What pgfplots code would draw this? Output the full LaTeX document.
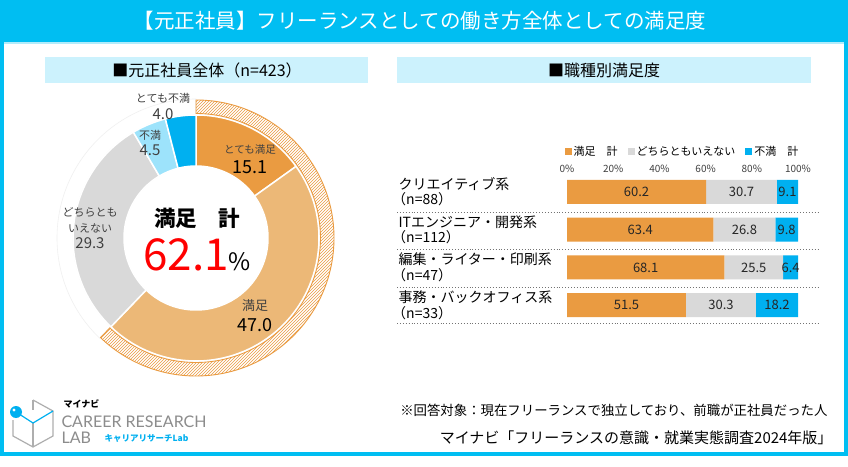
\documentclass[border=0pt]{standalone}
\usepackage{pgfplots}
\pgfplotsset{compat=1.18}
\usepackage{pgfplotstable}
\usepackage{fontspec}
\setmainfont{Noto Sans CJK JP}
\newfontfamily\latofont{Lato}
\usetikzlibrary{patterns}
\definecolor{frame}{HTML}{00BEF2}
\definecolor{hdr}{HTML}{CCF2FD}
\definecolor{oD}{HTML}{EA9B41}
\definecolor{oL}{HTML}{ECB877}
\definecolor{gr}{HTML}{D9D9D9}
\definecolor{bL}{HTML}{9DE3FB}
\definecolor{bD}{HTML}{00B0F0}
\definecolor{txt}{HTML}{404040}
\definecolor{logogray}{HTML}{8C8C8C}
\newcommand\fs[2]{\fontsize{#1}{#2}\selectfont}
\newcommand\lp{\kern-0.45em（}

\pgfplotstableread{
idx sat neu dis
0 60.2 30.7 9.1
1 63.4 26.8 9.8
2 68.1 25.5 6.4
3 51.5 30.3 18.2
}\bardata

% donut values (percent)
\def\dA{15.1}\def\dB{47.0}\def\dC{29.3}\def\dD{4.5}\def\dE{4.0}
\pgfmathsetmacro\dT{\dA+\dB+\dC+\dD+\dE}
\pgfmathsetmacro\aA{90}
\pgfmathsetmacro\aB{\aA-\dA/\dT*360}
\pgfmathsetmacro\aC{\aB-\dB/\dT*360}
\pgfmathsetmacro\aD{\aC-\dC/\dT*360}
\pgfmathsetmacro\aE{\aD-\dD/\dT*360}
\pgfmathsetmacro\aF{\aE-\dE/\dT*360}

\newcommand\ring[5]{%
  \filldraw[#5] (axis cs:{#4*cos(#1)},{#4*sin(#1)}) arc[start angle=#1,end angle=#2,radius=#4pt]
   -- (axis cs:{#3*cos(#2)},{#3*sin(#2)}) arc[start angle=#2,end angle=#1,radius=#3pt] -- cycle;}

\begin{document}
\begin{tikzpicture}[x=1pt,y=1pt]
\useasboundingbox (0,0) rectangle (848,466);
\fill[white] (0,0) rectangle (848,466);
% frame
\fill[frame] (0,10) rectangle (848,466);
\fill[white] (4,14) rectangle (844,424);
\fill[frame!30] (4,422) rectangle (844,424);
\node[white, font=\fs{20.5}{22}] at (420,445) {【元正社員】フリーランスとしての働き方全体としての満足度};
% sub headers
\fill[hdr] (45,383) rectangle (368,409);
\fill[hdr] (397,383) rectangle (811,409);
\node[font=\fs{16}{18}] at (207,396) {■元正社員全体（n=423）};
\node[font=\fs{16}{18}] at (604,396) {■職種別満足度};

% ---------------- donut ----------------
\begin{axis}[at={(196pt,228pt)}, anchor=center, scale only axis, width=300pt, height=300pt,
  xmin=-150, xmax=150, ymin=-150, ymax=150, hide axis, clip=false]
  \ring{\aC}{\aF}{123}{139}{draw=black!6, fill=white, line width=0.6pt}
  \ring{\aA}{\aB}{72}{123}{fill=oD, draw=white, line width=1.5pt}
  \ring{\aB}{\aC}{72}{123}{fill=oL, draw=white, line width=1.5pt}
  \ring{\aC}{\aD}{72}{123}{fill=gr, draw=white, line width=1.5pt}
  \ring{\aD}{\aE}{72}{123}{fill=bL, draw=white, line width=1.5pt}
  \ring{\aE}{\aF}{72}{123}{fill=bD, draw=white, line width=1.5pt}
  \ring{\aA}{\aC}{124.5}{138}{pattern=north east lines, pattern color=oD, draw=oD, line width=0.9pt}
\end{axis}
% donut labels
\node[txt, font=\fs{11}{12}] at (163,368) {とても不満};
\node[txt, font=\fs{15}{16}] at (163,352) {4.0};
\node[txt, font=\fs{11}{12}] at (150,331) {不満};
\node[txt, font=\fs{15}{16}] at (150,316) {4.5};
\node[txt, font=\fs{10.5}{12}] at (250,316) {とても満足};
\node[black, font=\fs{18}{19}] at (250,299) {15.1};
\node[txt, font=\fs{11}{12}] at (90,254) {どちらとも};
\node[txt, font=\fs{11}{12}] at (90,238) {いえない};
\node[txt, font=\fs{15}{16}] at (90,223) {29.3};
\node[txt, font=\fs{13}{14}] at (255,160) {満足};
\node[black, font=\fs{18}{19}] at (255,141) {47.0};
\node[black, font=\bfseries\fs{21.5}{24}] at (197,248) {満足　計};
\node[inner sep=0pt] at (197,211) {{\fs{44}{46}\color{red}62.1}{\fs{24}{26}\%}};

% ---------------- bars ----------------
\draw[black!55, dotted, line width=0.9pt] (397,254) -- (820,254);
\draw[black!55, dotted, line width=0.9pt] (397,217) -- (820,217);
\draw[black!55, dotted, line width=0.9pt] (397,179) -- (820,179);
\draw[black!55, dotted, line width=0.9pt] (397,143) -- (820,143);
\begin{axis}[at={(567pt,142pt)}, anchor=south west, scale only axis, width=231pt, height=151pt,
  xbar stacked, bar width=24pt, xmin=0, xmax=100, ymin=-0.5, ymax=3.5, y dir=reverse,
  axis line style={draw=none}, major tick length=0pt,
  /pgf/number format/assume math mode=true,
  xtick={0,20,40,60,80,100}, xticklabel pos=upper,
  xticklabel={\pgfmathprintnumber{\tick}\%},
  xticklabel style={font=\fs{10}{10}, text=txt, yshift=-3pt},
  ytick={0,1,2,3},
  yticklabels={{クリエイティブ系\\\lp n=88）},{ITエンジニア・開発系\\\lp n=112）},{編集・ライター・印刷系\\\lp n=47）},{事務・バックオフィス系\\\lp n=33）}},
  yticklabel style={anchor=west, xshift=-172pt, align=left, font=\fs{14}{15.5}, text=black},
  nodes near coords={\pgfmathprintnumber[fixed,fixed zerofill,precision=1]{\pgfplotspointmeta}},
  every node near coord/.append style={anchor=center, font=\fs{13}{14}, text=black!85},
  legend style={at={(0.5,1)}, anchor=south, yshift=12pt, legend columns=3, draw=none, fill=none,
    font=\fs{11}{12}, /tikz/every even column/.append style={column sep=8pt}},
  legend image code/.code={\fill[#1] (0pt,-3.5pt) rectangle (7pt,3.5pt);},
  ]
  \addplot[fill=oD, draw=none, point meta=explicit] table[x=sat, y=idx, meta=sat] {\bardata};
  \addplot[fill=gr, draw=none, point meta=explicit] table[x=neu, y=idx, meta=neu] {\bardata};
  \addplot[fill=bD, draw=none, point meta=explicit] table[x=dis, y=idx, meta=dis] {\bardata};
  \legend{満足　計, どちらともいえない, 不満　計}
\end{axis}

% ---------------- footnotes ----------------
\node[anchor=east, font=\fs{13.4}{14}] at (831,56) {※回答対象：現在フリーランスで独立しており、前職が正社員だった人};
\node[anchor=east, font=\fs{15}{16}] at (836,28) {マイナビ「フリーランスの意識・就業実態調査2024年版」};

% ---------------- logo ----------------
\draw[logogray!70, line width=1.2pt] (33,66) -- (53,55) -- (53,30) -- (33,19) -- (13,30) -- (13,46);
\draw[logogray!70, line width=1.2pt] (33,43) -- (33,19);
\draw[logogray!70, line width=1.2pt] (33,66) -- (33,56);
\draw[bD, line width=1.2pt] (16,54) -- (33,43) -- (53,55);
\fill[bD] (16,54) circle (6);
\fill[white] (14,56) circle (1.6);
\node[anchor=west, font=\bfseries\fs{9}{10}] at (60,62) {マイナビ};
\node[anchor=west, logogray, font=\latofont\fs{16}{17}] at (58,44) {CAREER RESEARCH};
\node[anchor=west, logogray, font=\latofont\fs{16}{17}] at (58,28) {LAB};
\node[anchor=west, bD, font=\bfseries\fs{8.5}{9}] at (101,28) {キャリアリサーチLab};
\end{tikzpicture}
\end{document}
